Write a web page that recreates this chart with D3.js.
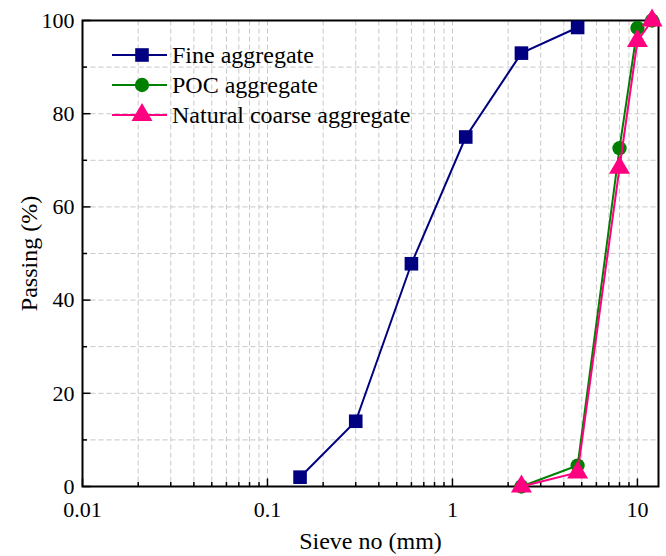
<!DOCTYPE html>
<html>
<head>
    <meta charset="utf-8">
    <title>Sieve grading</title>
    <script src="https://cdn.jsdelivr.net/npm/d3@7/dist/d3.min.js"></script>
    <style>
        body { margin: 0; background: #fff; }
        text { font-family: "Liberation Serif", "Times New Roman", serif; fill: #000; }
    </style>
</head>
<body>
    <svg width="666" height="556"></svg>

    <script>
        // sieve sizes (mm) and passing (%)
        var fineSieve = [0.15, 0.3, 0.6, 1.18, 2.36, 4.75];
        var finePass = [2, 14, 47.8, 75, 93, 98.5];
        var pocSieve = [2.36, 4.75, 8, 10, 12];
        var pocPass = [0, 4.5, 72.6, 98.4, 100];
        var natSieve = [2.36, 4.75, 8, 10, 12];
        var natPass = [0, 3, 68.4, 95.6, 100];

        var xTickLabels = [0.01, 0.1, 1, 10];
        var yTickLabels = [0, 20, 40, 60, 80, 100];
        var yMinor = [10, 30, 50, 70, 90];

        var seriesNames = ["Fine aggregate", "POC aggregate", "Natural coarse aggregate"];
        var seriesColors = ["#000080", "#008000", "#ff0080"];
        var seriesShapes = [d3.symbolSquare, d3.symbolCircle, d3.symbolTriangle];
        var seriesSizes = [185, 160, 190];

        var series = [
            { x: fineSieve, y: finePass },
            { x: pocSieve, y: pocPass },
            { x: natSieve, y: natPass }
        ];

        var marge = { top: 20.5, bottom: 69.5, left: 82.5, right: 7.5 };
        var svg = d3.select("svg");
        var width = +svg.attr("width") - marge.left - marge.right;
        var height = +svg.attr("height") - marge.top - marge.bottom;
        var g = svg.append("g")
            .attr("transform", "translate(" + marge.left + "," + marge.top + ")");

        var x = d3.scaleLog().domain([0.01, 13]).range([0, width]);
        var y = d3.scaleLinear().domain([0, 100]).range([height, 0]);

        var xAll = x.ticks();
        var yAll = d3.range(0, 101, 10);

        // grid
        var grid = g.append("g")
            .attr("stroke", "#c8c8c8")
            .attr("stroke-width", 1)
            .attr("stroke-dasharray", "5,3");
        grid.selectAll(".gx")
            .data(xAll.filter(function (d) { return d > 0.0101; }))
            .enter().append("line")
            .attr("x1", function (d) { return x(d); })
            .attr("x2", function (d) { return x(d); })
            .attr("y1", 0).attr("y2", height);
        grid.selectAll(".gy")
            .data(yAll.filter(function (d) { return d > 0 && d < 100; }))
            .enter().append("line")
            .attr("x1", 0).attr("x2", width)
            .attr("y1", function (d) { return y(d); })
            .attr("y2", function (d) { return y(d); });

        // ticks (inward)
        var ticks = g.append("g").attr("stroke", "#000").attr("stroke-width", 1.5);
        ticks.selectAll(".tx")
            .data(xAll)
            .enter().append("line")
            .attr("x1", function (d) { return x(d); })
            .attr("x2", function (d) { return x(d); })
            .attr("y1", height)
            .attr("y2", function (d) { return xTickLabels.indexOf(d) >= 0 ? height - 8 : height - 4.5; });
        ticks.selectAll(".ty")
            .data(yTickLabels.concat(yMinor))
            .enter().append("line")
            .attr("x1", 0)
            .attr("x2", function (d) { return yTickLabels.indexOf(d) >= 0 ? 8 : 4.5; })
            .attr("y1", function (d) { return y(d); })
            .attr("y2", function (d) { return y(d); });

        // frame
        g.append("rect")
            .attr("width", width).attr("height", height)
            .attr("fill", "none").attr("stroke", "#000").attr("stroke-width", 2);

        // tick labels
        g.selectAll(".xl")
            .data(xTickLabels)
            .enter().append("text")
            .attr("x", function (d) { return x(d); })
            .attr("y", height + 30)
            .attr("text-anchor", "middle")
            .style("font-size", "22px")
            .text(function (d) { return d; });
        g.selectAll(".yl")
            .data(yTickLabels)
            .enter().append("text")
            .attr("x", -8)
            .attr("y", function (d) { return y(d); })
            .attr("dy", "0.33em")
            .attr("text-anchor", "end")
            .style("font-size", "22px")
            .text(function (d) { return d; });

        // axis titles
        svg.append("text")
            .attr("x", marge.left + width / 2)
            .attr("y", 549)
            .attr("text-anchor", "middle")
            .style("font-size", "24px")
            .text("Sieve no (mm)");
        svg.append("text")
            .attr("transform", "translate(37," + (marge.top + height / 2) + ") rotate(-90)")
            .attr("text-anchor", "middle")
            .style("font-size", "24px")
            .text("Passing (%)");

        // lines and markers
        var line = d3.line()
            .x(function (d) { return x(d[0]); })
            .y(function (d) { return y(d[1]); });

        series.forEach(function (s, i) {
            var pts = s.x.map(function (v, j) { return [v, s.y[j]]; });
            g.append("path")
                .datum(pts)
                .attr("d", line)
                .attr("fill", "none")
                .attr("stroke", seriesColors[i])
                .attr("stroke-width", 2);
            g.selectAll(".m" + i)
                .data(pts)
                .enter().append("path")
                .attr("transform", function (d) { return "translate(" + x(d[0]) + "," + y(d[1]) + ")"; })
                .attr("d", d3.symbol().type(seriesShapes[i]).size(seriesSizes[i]))
                .attr("fill", seriesColors[i]);
        });

        // legend
        var legend = svg.append("g").attr("transform", "translate(112,55)");
        seriesNames.forEach(function (name, i) {
            var row = legend.append("g").attr("transform", "translate(0," + i * 30 + ")");
            row.append("line")
                .attr("x1", 0).attr("x2", 55)
                .attr("stroke", seriesColors[i]).attr("stroke-width", 2);
            row.append("path")
                .attr("transform", "translate(30,0)")
                .attr("d", d3.symbol().type(seriesShapes[i]).size(seriesSizes[i]))
                .attr("fill", seriesColors[i]);
            row.append("text")
                .attr("x", 60)
                .attr("dy", "0.35em")
                .style("font-size", "24px")
                .text(name);
        });
    </script>
</body>
</html>
